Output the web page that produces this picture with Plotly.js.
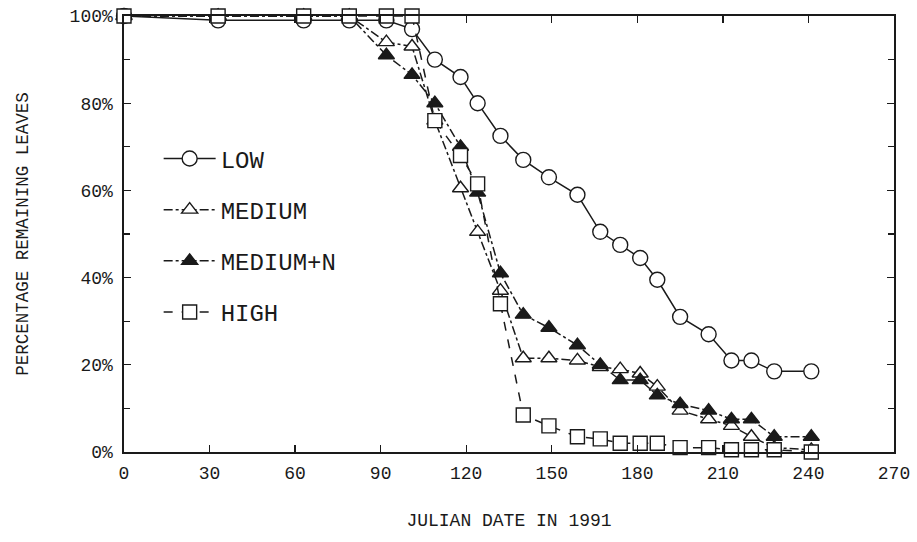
<!DOCTYPE html>
<html>
<head>
<meta charset="utf-8">
<script src="https://cdn.plot.ly/plotly-3.0.1.min.js"></script>
<style>html,body{margin:0;padding:0;background:#fff;}#chart{width:917px;height:542px;}</style>
</head>
<body>
<div id="chart"></div>
<script>
// Julian day of each sampling date
const days = [0, 33, 63, 79, 92, 101, 109, 118, 124, 132, 140, 149, 159, 167, 174, 181, 187, 195, 205, 213, 220, 228, 241];
// Percentage of remaining leaves per treatment
const low      = [100, 99, 99, 99, 99, 97, 90, 86, 80, 72.5, 67, 63, 59, 50.5, 47.5, 44.5, 39.5, 31, 27, 21, 21, 18.5, 18.5];
const medium   = [100, 100, 100, 100, 94, 93, 76, 60.5, 50.5, 37, 21.5, 21.5, 21, 19.5, 19, 18, 15, 9.5, 7.5, 6, 3.5, 1, 0.5];
const mediumN  = [100, 100, 100, 100, 91, 86.5, 80, 70, 59.5, 41, 31.5, 28.5, 24.5, 20, 16.5, 16.5, 13, 11, 9.5, 7.5, 7.5, 3.5, 3.5];
const high     = [100, 100, 100, 100, 100, 100, 76, 68, 61.5, 34, 8.5, 6, 3.5, 3, 2, 2, 2, 1, 1, 0.5, 0.5, 0.5, 0];
const seriesNames = ['LOW', 'MEDIUM', 'MEDIUM+N', 'HIGH'];
const xTicks = [0, 30, 60, 90, 120, 150, 180, 210, 240, 270];
const yTicks = [0, 20, 40, 60, 80, 100];
const yTickText = ['0%', '20%', '40%', '60%', '80%', '100%'];

const FONT = '"Liberation Mono", "DejaVu Sans Mono", monospace';
const INK = '#1a1a1a';

function trace(name, y, symbol, dash, fill, size, rank) {
  return {
    x: days, y: y, name: name, type: 'scatter', mode: 'lines+markers',
    legendgroup: name, legendrank: rank, cliponaxis: false,
    line: {color: INK, width: 1.5, dash: dash},
    marker: {symbol: symbol, size: size, color: fill ? INK : 'white',
             line: {color: INK, width: 1.4}}
  };
}

const data = [
  trace(seriesNames[0], low, 'circle', 'solid', false, 15, 1),
  trace(seriesNames[1], medium, 'triangle-up', 'dashdot', false, 14, 2),
  trace(seriesNames[2], mediumN, 'triangle-up', 'dashdot', true, 14, 3),
  trace(seriesNames[3], high, 'square', 'dash', false, 14, 4)
];

const layout = {
  width: 917, height: 542,
  margin: {l: 123.5, r: 23, t: 15.5, b: 90},
  paper_bgcolor: 'white', plot_bgcolor: 'white',
  font: {family: FONT, color: INK, size: 18},
  showlegend: true,
  legend: {
    x: 0.045, y: 0.724, xanchor: 'left', yanchor: 'top',
    traceorder: 'grouped', tracegroupgap: 17,
    font: {family: FONT, size: 24, color: INK},
    bgcolor: 'rgba(0,0,0,0)', itemwidth: 52
  },
  xaxis: {
    range: [0, 270], tickvals: xTicks, ticktext: xTicks.map(String),
    showgrid: false, zeroline: false,
    showline: true, linecolor: INK, linewidth: 1.6, mirror: 'ticks',
    ticks: 'inside', ticklen: 7, tickwidth: 1.3, tickcolor: INK,
    ticklabelstandoff: 4,
    tickfont: {family: FONT, size: 18, color: INK},
    title: {text: 'JULIAN DATE IN 1991', standoff: 30,
            font: {family: FONT, size: 18, color: INK}}
  },
  yaxis: {
    range: [0, 100], tickvals: yTicks, ticktext: yTickText,
    showgrid: false, zeroline: false,
    showline: true, linecolor: INK, linewidth: 1.6, mirror: 'ticks',
    ticks: 'inside', ticklen: 7, tickwidth: 1.3, tickcolor: INK,
    minor: {dtick: 10, ticks: 'inside', ticklen: 6, tickwidth: 1.2, tickcolor: INK, showgrid: false},
    ticklabelstandoff: 6,
    tickfont: {family: FONT, size: 18, color: INK},
    title: {text: 'PERCENTAGE REMAINING LEAVES', standoff: 36,
            font: {family: FONT, size: 17.5, color: INK}}
  }
};

Plotly.newPlot('chart', data, layout, {displayModeBar: false, staticPlot: true});
</script>
</body>
</html>
